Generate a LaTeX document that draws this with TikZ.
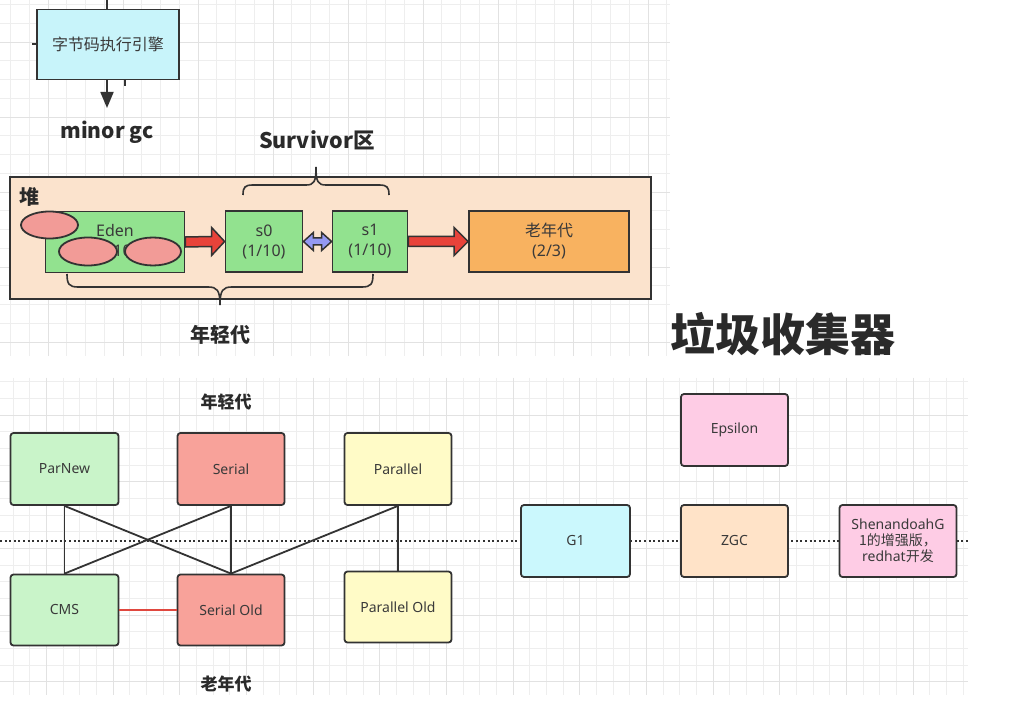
\documentclass[tikz,border=0pt]{standalone}
\usepackage{fontspec}
\setmainfont{Noto Sans}
\newfontfamily\cjk{Noto Sans CJK SC}
\usetikzlibrary{arrows.meta,calc,shapes.geometric}
\definecolor{linec}{HTML}{333333}
\definecolor{txtc}{HTML}{3A3A3A}
\definecolor{labc}{HTML}{2A2A2A}
\definecolor{gmin}{HTML}{EEEEEE}
\definecolor{gmaj}{HTML}{E2E2E2}
\definecolor{cyanf}{HTML}{C8F4FA}
\definecolor{heapf}{HTML}{FBE3CD}
\definecolor{greenf}{HTML}{92E28F}
\definecolor{oldf}{HTML}{F8B260}
\definecolor{ellf}{HTML}{F29B97}
\definecolor{redarr}{HTML}{E8433A}
\definecolor{bluearr}{HTML}{9499F2}
\definecolor{lgreen}{HTML}{C9F4C9}
\definecolor{salmon}{HTML}{F8A29A}
\definecolor{lyellow}{HTML}{FFFBC7}
\definecolor{lpink}{HTML}{FECCE5}
\definecolor{lcyan}{HTML}{CBF8FD}
\definecolor{lpeach}{HTML}{FFE3C8}
\definecolor{redline}{HTML}{E0483F}
\begin{document}
\begin{tikzpicture}[x=1pt,y=-1pt,
  tbox/.style={draw=linec, line width=1.8pt, font=\fontsize{16}{20}\selectfont, text=txtc, inner sep=0pt, align=center},
  gbox/.style={draw=linec, line width=1.8pt, rounded corners=3pt, minimum width=107pt, minimum height=72pt, font=\fontsize{14}{16}\selectfont, text=txtc, inner sep=0pt, align=center},
  lbl/.style={font=\cjk\bfseries\fontsize{20}{24}\selectfont, text=labc, inner sep=0pt},
  conn/.style={draw=linec, line width=1.8pt},
  blockarr/.style={draw=linec, line width=1.5pt, line join=miter},
  ell/.style={ellipse, draw=linec, line width=1.8pt, fill=ellf, inner sep=0pt}
]
\useasboundingbox[fill=white] (0,0) rectangle (1010,703);
% top grid
\foreach \i in {0,...,35} \draw[gmin, line width=0.8pt] ({10.5+18.75*\i},0) -- ({10.5+18.75*\i},356);
\foreach \j in {0,...,18} \draw[gmin, line width=0.8pt] (0,{4.5+18.75*\j}) -- (670,{4.5+18.75*\j});
\foreach \i in {2,6,...,34} \draw[gmaj, line width=0.9pt] ({10.5+18.75*\i},0) -- ({10.5+18.75*\i},356);
\foreach \j in {2,6,...,18} \draw[gmaj, line width=0.9pt] (0,{4.5+18.75*\j}) -- (670,{4.5+18.75*\j});
% bottom grid
\foreach \i in {0,...,57} \draw[gmin, line width=0.8pt] ({13+16.667*\i},378) -- ({13+16.667*\i},695);
\foreach \j in {0,...,18} \draw[gmin, line width=0.8pt] (0,{381.7+16.667*\j}) -- (968,{381.7+16.667*\j});
\foreach \i in {2,6,...,54} \draw[gmaj, line width=0.9pt] ({13+16.667*\i},378) -- ({13+16.667*\i},695);
\foreach \j in {2,6,...,18} \draw[gmaj, line width=0.9pt] (0,{381.7+16.667*\j}) -- (968,{381.7+16.667*\j});

% ---------- top part ----------
\node[tbox, fill=cyanf, minimum width=142pt, minimum height=70pt] (byte) at (108,44.5) {{\cjk 字节码执行引擎}};
\coordinate (topend) at (107,-2);
\coordinate (ls) at (32,44);
\coordinate (bs) at (125,86);
\coordinate (mgcend) at (107,108);
\draw[conn] (byte.north -| topend) -- (topend);
\draw[conn] (ls) -- (ls -| byte.west);
\draw[conn, line width=1.5pt] (bs) -- (bs |- byte.south);
\draw[conn, -{Triangle[length=16pt,width=13pt]}] (byte.south -| mgcend) -- (mgcend);
\node[lbl, font=\cjk\bfseries\fontsize{21}{25}\selectfont] (mgc) at (107,132) {minor gc};
\node[lbl, font=\cjk\bfseries\fontsize{21.5}{26}\selectfont] (surv) at (317,140) {Survivor区};

\node[draw=linec, line width=1.8pt, fill=heapf, minimum width=641pt, minimum height=122pt, inner sep=0pt] (heap) at (330.5,238) {};
\node[lbl, anchor=west] (heaplbl) at (19,197) {堆};

\node[tbox, fill=greenf, minimum width=139pt, minimum height=61pt] (eden) at (115,242) {Eden\\(8/10)};
\node[tbox, fill=greenf, minimum width=77pt, minimum height=61pt] (s0) at (264,241.5) {s0\\(1/10)};
\node[tbox, fill=greenf, minimum width=75pt, minimum height=61pt] (s1) at (370,241.5) {s1\\(1/10)};
\node[tbox, fill=oldf, minimum width=160pt, minimum height=61pt] (old) at (549,241.5) {{\cjk 老年代}\\(2/3)};

% block arrows
\draw[blockarr, fill=redarr] ($(eden.east)+(0,-5)$) -- ($(s0.west)+(-13,-5)$) -- ($(s0.west)+(-13,-14)$) -- (s0.west) -- ($(s0.west)+(-13,14)$) -- ($(s0.west)+(-13,5)$) -- ($(eden.east)+(0,5)$) -- cycle;
\draw[blockarr, fill=redarr] ($(s1.east)+(0,-5)$) -- ($(old.west)+(-14,-5)$) -- ($(old.west)+(-14,-14)$) -- (old.west) -- ($(old.west)+(-14,14)$) -- ($(old.west)+(-14,5)$) -- ($(s1.east)+(0,5)$) -- cycle;
\draw[blockarr, fill=bluearr] (s0.east) -- ($(s0.east)+(10,-9)$) -- ($(s0.east)+(10,-3.5)$) -- ($(s1.west)+(-10,-3.5)$) -- ($(s1.west)+(-10,-9)$) -- (s1.west) -- ($(s1.west)+(-10,9)$) -- ($(s1.west)+(-10,3.5)$) -- ($(s0.east)+(10,3.5)$) -- ($(s0.east)+(10,9)$) -- cycle;

% objects in Eden
\node[ell, minimum width=57pt, minimum height=27pt] (o1) at (49.5,225) {};
\node[ell, minimum width=58pt, minimum height=28pt] (o2) at (88,251.5) {};
\node[ell, minimum width=56pt, minimum height=28pt] (o3) at (153,251.5) {};

% braces
\draw[conn, line width=1.6pt] (243,195) .. controls (243,187) and (245,185) .. (253,185) -- (306,185) .. controls (314,185) and (316,182) .. (316,167) .. controls (316,182) and (318,185) .. (326,185) -- (379,185) .. controls (387,185) and (389,187) .. (389,195);
\draw[conn, line width=1.6pt] (67,274) .. controls (67,284) and (69,287) .. (78,287) -- (208,287) .. controls (217,287) and (220,290) .. (220,305) .. controls (220,290) and (223,287) .. (232,287) -- (362,287) .. controls (371,287) and (373,284) .. (373,274);
\node[lbl] (young1) at (220,335) {年轻代};

\node[lbl, font=\cjk\bfseries\fontsize{45}{50}\selectfont] (title) at (783,334) {垃圾收集器};

% ---------- bottom part ----------
\coordinate (dl) at (0,541);
\coordinate (dr) at (968,541);
\draw[linec, line width=2pt, dash pattern=on 2pt off 2.6pt] (dl) -- (dr);

\node[lbl, font=\cjk\bfseries\fontsize{17}{20}\selectfont] (young2) at (226,402) {年轻代};
\node[lbl, font=\cjk\bfseries\fontsize{17}{20}\selectfont] (oldlbl) at (226,684) {老年代};

\node[gbox, fill=lgreen, minimum width=108pt] (parnew) at (64.5,469) {ParNew};
\node[gbox, fill=salmon] (serial) at (231,469) {Serial};
\node[gbox, fill=lyellow] (parallel) at (398,469) {Parallel};
\node[gbox, fill=lgreen, minimum width=108pt, minimum height=71pt] (cms) at (64.5,610) {CMS};
\node[gbox, fill=salmon, minimum height=71pt] (serialold) at (231,610) {Serial Old};
\node[gbox, fill=lyellow, minimum height=71pt] (parallelold) at (398,607) {Parallel Old};

\draw[conn] (parnew.south) -- (cms.north);
\draw[conn] (parnew.south) -- (serialold.north);
\draw[conn] (serial.south) -- (cms.north);
\draw[conn] (serial.south) -- (serialold.north);
\draw[conn] (parallel.south) -- (serialold.north);
\draw[conn, line width=1.2pt] (parallel.south) -- (parallelold.north);
\draw[redline, line width=1.6pt] (cms.east) -- (serialold.west);

\node[gbox, fill=lpink] (epsilon) at (734.5,430) {Epsilon};
\node[gbox, fill=lcyan, minimum width=109pt] (g1) at (575.5,541) {G1};
\node[gbox, fill=lpeach] (zgc) at (734.5,541) {ZGC};
\node[gbox, fill=lpink, minimum width=117pt] (shen) at (898,541) {ShenandoahG\\{\cjk 1的增强版，}\\redhat{\cjk 开发}};
\end{tikzpicture}
\end{document}
